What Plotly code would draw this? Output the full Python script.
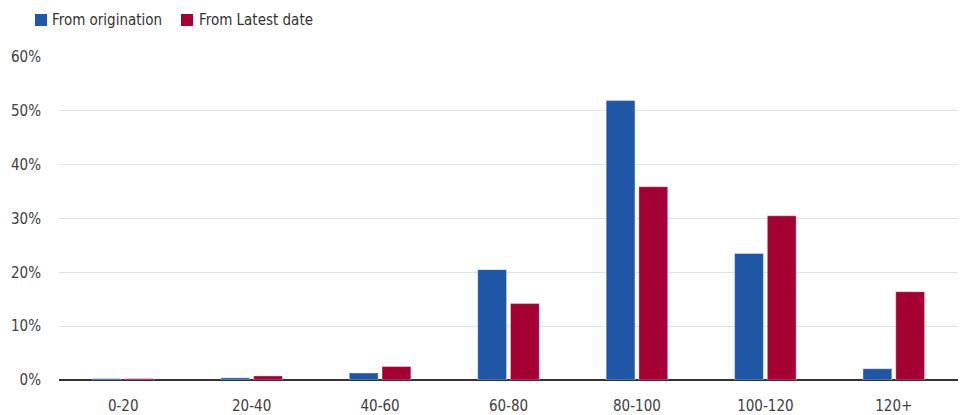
import plotly.graph_objects as go

categories = ["0-20", "20-40", "40-60", "60-80", "80-100", "100-120", "120+"]
from_origination = [0.0025, 0.004, 0.013, 0.205, 0.519, 0.235, 0.021]
from_latest = [0.0025, 0.0075, 0.025, 0.142, 0.359, 0.305, 0.164]
y_ticks = [0, 0.1, 0.2, 0.3, 0.4, 0.5, 0.6]
y_tick_labels = ["0%", "10%", "20%", "30%", "40%", "50%", "60%"]
series_names = ["From origination", "From Latest date"]
series_colors = ["#1F57A6", "#A50034"]

FONT = "Liberation Sans Narrow, DejaVu Sans Condensed, Roboto, sans-serif"
W, H = 962, 415
L, R, T, B = 59, 4, 57, 35
PW, PH = W - L - R, H - T - B

def px_x(x):
    return (x - L) / PW

def px_y(y):
    return (H - B - y) / PH

fig = go.Figure()
for name, vals, col in zip(series_names, [from_origination, from_latest], series_colors):
    fig.add_trace(go.Bar(name=name, x=categories, y=vals,
                         marker=dict(color=col, line=dict(color="rgba(255,255,255,0.6)", width=0.6))))

# manual legend (swatch + label), positioned in pixels of the page
legend_items = [(35, 50), (181, 197)]
for (sx, tx), name, col in zip(legend_items, series_names, series_colors):
    fig.add_shape(type="rect", xref="paper", yref="paper",
                  x0=px_x(sx), x1=px_x(sx + 12), y0=px_y(26), y1=px_y(14),
                  fillcolor=col, line=dict(width=0))
    fig.add_annotation(xref="paper", yref="paper", x=px_x(tx), y=px_y(20),
                       xanchor="left", yanchor="middle", showarrow=False,
                       text=name, font=dict(family=FONT, size=15, color="#333333"))

fig.update_layout(
    width=W, height=H,
    margin=dict(l=L, r=R, t=T, b=B),
    paper_bgcolor="white", plot_bgcolor="white",
    barmode="group", bargap=0.49, bargroupgap=0.12,
    font=dict(family=FONT, size=15, color="#404040"),
    showlegend=False,
    hovermode=False,
)
fig.update_xaxes(showgrid=False, showline=False, zeroline=False, automargin=False,
                 ticks="outside", ticklen=12, tickcolor="rgba(0,0,0,0)",
                 tickfont=dict(family=FONT, size=15, color="#404040"))
fig.update_yaxes(range=[0, 0.6], tickvals=y_ticks, ticktext=y_tick_labels,
                 showgrid=True, gridcolor="#E2E2E2", gridwidth=1, automargin=False,
                 zeroline=True, zerolinecolor="#333333", zerolinewidth=1.5,
                 showline=False, ticks="outside", ticklen=14, tickcolor="rgba(0,0,0,0)",
                 tickfont=dict(family=FONT, size=15, color="#404040"))

fig.write_html("out.html")
